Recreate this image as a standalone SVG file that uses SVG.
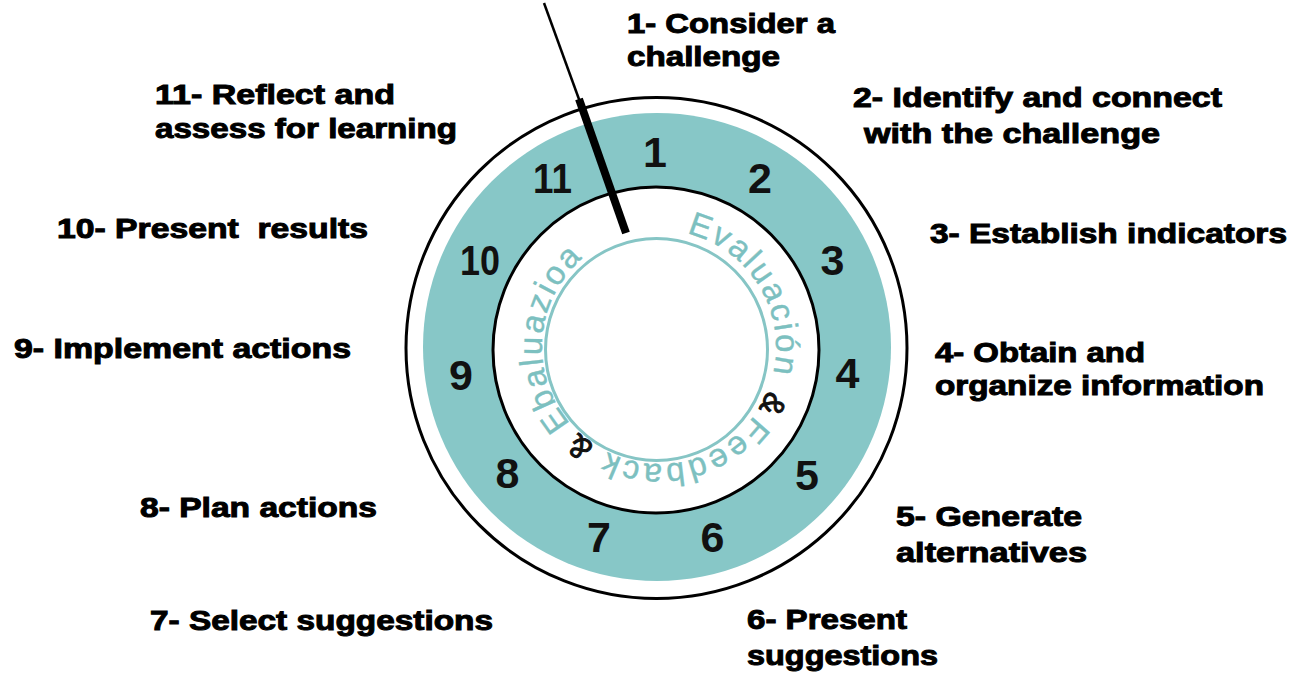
<svg xmlns="http://www.w3.org/2000/svg" xmlns:xlink="http://www.w3.org/1999/xlink" width="1293" height="673" viewBox="0 0 1293 673">
  <style>
    .lbl { font-family: "Liberation Sans", Arial, sans-serif; font-weight: bold; font-size: 28px; fill: #000; stroke: #000; stroke-width: 1px; }
    .num { font-family: "Liberation Sans", Arial, sans-serif; font-weight: bold; font-size: 43px; fill: #111; text-anchor: middle; }
    .arc { font-family: "Liberation Sans", Arial, sans-serif; font-size: 33px; fill: #7cc0c0; stroke: #7cc0c0; stroke-width: 0.4px; letter-spacing: 2.3px; }
    .amp { font-family: "Liberation Sans", Arial, sans-serif; font-size: 32px; fill: #111; stroke: #111; stroke-width: 1px; }
  </style>
  <defs>
    <path id="textCircle" d="M 659,230 A 117,117 0 1,1 659,464 A 117,117 0 1,1 659,230" fill="none"/>
  </defs>
  <rect width="1293" height="673" fill="#ffffff"/>

  <g id="dial">
    <circle cx="656.5" cy="348" r="250.5" fill="#ffffff" stroke="#000" stroke-width="3"/>
    <circle cx="657" cy="347" r="234" fill="#87c7c7"/>
    <circle cx="656" cy="350" r="163" fill="#ffffff" stroke="#000" stroke-width="3"/>
    <circle cx="656.5" cy="349.5" r="111" fill="none" stroke="#86c5c5" stroke-width="3"/>
  </g>

  <g id="inner-text">
    <text class="arc"><textPath xlink:href="#textCircle" startOffset="27.8">Evaluación</textPath></text>
    <text class="amp"><textPath xlink:href="#textCircle" startOffset="227.5">&amp;</textPath></text>
    <text class="arc" style="letter-spacing:2.8px"><textPath xlink:href="#textCircle" startOffset="256.4">Feedback</textPath></text>
    <text class="amp"><textPath xlink:href="#textCircle" startOffset="435">&amp;</textPath></text>
    <text class="arc"><textPath xlink:href="#textCircle" startOffset="467.6">Ebaluazioa</textPath></text>
  </g>

  <g id="numbers">
    <text class="num" x="655" y="167">1</text>
    <text class="num" x="760" y="193">2</text>
    <text class="num" x="832.5" y="275">3</text>
    <text class="num" x="847.5" y="388">4</text>
    <text class="num" x="807" y="490">5</text>
    <text class="num" x="712.5" y="552">6</text>
    <text class="num" x="599" y="552">7</text>
    <text class="num" x="507.5" y="488">8</text>
    <text class="num" x="461" y="390">9</text>
    <text class="num" x="480" y="275" textLength="40" lengthAdjust="spacingAndGlyphs">10</text>
    <text class="num" x="552.5" y="193" textLength="39" lengthAdjust="spacingAndGlyphs">11</text>
  </g>

  <g id="needle">
    <line x1="544" y1="3" x2="580" y2="102" stroke="#000" stroke-width="2.5"/>
    <line x1="579" y1="99" x2="626" y2="233" stroke="#000" stroke-width="8"/>
  </g>

  <g id="step-1">
    <text class="lbl" x="627" y="33" textLength="208" lengthAdjust="spacingAndGlyphs">1- Consider a</text>
    <text class="lbl" x="627" y="66" textLength="153" lengthAdjust="spacingAndGlyphs">challenge</text>
  </g>
  <g id="step-2">
    <text class="lbl" x="853" y="107" textLength="369" lengthAdjust="spacingAndGlyphs">2- Identify and connect</text>
    <text class="lbl" x="864" y="143" textLength="296" lengthAdjust="spacingAndGlyphs">with the challenge</text>
  </g>
  <g id="step-3">
    <text class="lbl" x="930" y="243" textLength="357" lengthAdjust="spacingAndGlyphs">3- Establish indicators</text>
  </g>
  <g id="step-4">
    <text class="lbl" x="935" y="362" textLength="210" lengthAdjust="spacingAndGlyphs">4- Obtain and</text>
    <text class="lbl" x="935" y="395" textLength="329" lengthAdjust="spacingAndGlyphs">organize information</text>
  </g>
  <g id="step-5">
    <text class="lbl" x="896" y="526" textLength="186" lengthAdjust="spacingAndGlyphs">5- Generate</text>
    <text class="lbl" x="896" y="562" textLength="191" lengthAdjust="spacingAndGlyphs">alternatives</text>
  </g>
  <g id="step-6">
    <text class="lbl" x="747" y="629" textLength="160" lengthAdjust="spacingAndGlyphs">6- Present</text>
    <text class="lbl" x="747" y="665" textLength="191" lengthAdjust="spacingAndGlyphs">suggestions</text>
  </g>
  <g id="step-7">
    <text class="lbl" x="150" y="630" textLength="343" lengthAdjust="spacingAndGlyphs">7- Select suggestions</text>
  </g>
  <g id="step-8">
    <text class="lbl" x="140" y="517" textLength="237" lengthAdjust="spacingAndGlyphs">8- Plan actions</text>
  </g>
  <g id="step-9">
    <text class="lbl" x="14" y="358" textLength="337" lengthAdjust="spacingAndGlyphs">9- Implement actions</text>
  </g>
  <g id="step-10">
    <text class="lbl" x="57" y="238" textLength="311" lengthAdjust="spacingAndGlyphs" style="white-space:pre">10- Present  results</text>
  </g>
  <g id="step-11">
    <text class="lbl" x="155" y="104" textLength="240" lengthAdjust="spacingAndGlyphs">11- Reflect and</text>
    <text class="lbl" x="155" y="138" textLength="302" lengthAdjust="spacingAndGlyphs">assess for learning</text>
  </g>
</svg>
